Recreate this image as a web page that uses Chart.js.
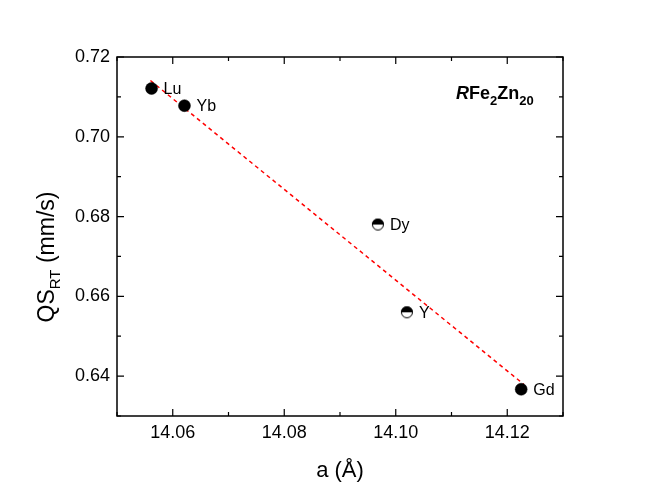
<!DOCTYPE html>
<html>
<head>
<meta charset="utf-8">
<script src="https://cdn.jsdelivr.net/npm/chart.js@4/dist/chart.umd.min.js"></script>
<style>
  html, body { margin: 0; padding: 0; background: #fff; }
  #wrap { width: 654px; height: 500px; }
</style>
</head>
<body>
<div id="wrap"><canvas id="qsChart" width="654" height="500"></canvas></div>
<script>
// data
const elements = ['Lu', 'Yb', 'Dy', 'Y', 'Gd'];
const latticeA = [14.0562, 14.0621, 14.0968, 14.1020, 14.1225];
const qsRT = [0.7121, 0.7078, 0.6780, 0.6560, 0.6367];
const halfFilled = [false, false, true, true, false];

// linear fit (dashed red)
const fitA = [14.0560, 14.1230];
const fitQS = [0.7141, 0.6379];

const xMin = 14.05, xMax = 14.13;
const yMin = 0.63, yMax = 0.72;

const FONT = '"Liberation Sans", Arial, sans-serif';

// half filled marker: black top, white bottom
function makeHalfMarker() {
    const c = document.createElement('canvas');
    c.width = 14; c.height = 14;
    const g = c.getContext('2d');
    g.beginPath();
    g.arc(7, 7, 6, 0, Math.PI * 2);
    g.fillStyle = '#fff';
    g.fill();
    g.beginPath();
    g.arc(7, 7, 6, Math.PI, 0);
    g.closePath();
    g.fillStyle = '#000';
    g.fill();
    g.beginPath();
    g.arc(7, 7, 5.5, 0, Math.PI * 2);
    g.lineWidth = 1;
    g.strokeStyle = '#000';
    g.stroke();
    return c;
}
const halfDot = makeHalfMarker();

function isMajor(v) {
    return Math.round(v * 100) % 2 === 0;
}

// draw pieces of text one after another, with baseline shifts
function drawRuns(ctx, runs, x, y) {
    let cx = x;
    runs.forEach(p => {
        ctx.font = p.f;
        ctx.fillText(p.t, cx, y + p.dy);
        cx += ctx.measureText(p.t).width;
    });
}
function runsWidth(ctx, runs) {
    let w = 0;
    runs.forEach(p => { ctx.font = p.f; w += ctx.measureText(p.t).width; });
    return w;
}

// frame, inward ticks, labels, titles
const decor = {
    id: 'decor',
    afterDraw(chart) {
        const ctx = chart.ctx;
        const a = chart.chartArea;
        const xs = chart.scales.x, ys = chart.scales.y;
        ctx.save();
        ctx.strokeStyle = '#000';
        ctx.lineWidth = 1.5;
        ctx.strokeRect(a.left, a.top, a.right - a.left, a.bottom - a.top);

        ctx.lineWidth = 1.2;
        xs.ticks.forEach(t => {
            const px = xs.getPixelForValue(t.value);
            const len = isMajor(t.value) ? 7 : 4;
            ctx.beginPath();
            ctx.moveTo(px, a.bottom); ctx.lineTo(px, a.bottom - len);
            ctx.moveTo(px, a.top); ctx.lineTo(px, a.top + len);
            ctx.stroke();
        });
        ys.ticks.forEach(t => {
            const py = ys.getPixelForValue(t.value);
            const len = isMajor(t.value) ? 7 : 4;
            ctx.beginPath();
            ctx.moveTo(a.left, py); ctx.lineTo(a.left + len, py);
            ctx.moveTo(a.right, py); ctx.lineTo(a.right - len, py);
            ctx.stroke();
        });

        // point labels
        ctx.fillStyle = '#000';
        ctx.font = '16px ' + FONT;
        ctx.textBaseline = 'middle';
        ctx.textAlign = 'left';
        elements.forEach((el, i) => {
            const px = xs.getPixelForValue(latticeA[i]);
            const py = ys.getPixelForValue(qsRT[i]);
            ctx.fillText(el, px + 12, py + 1);
        });

        // x title
        ctx.font = '22px ' + FONT;
        ctx.textAlign = 'center';
        ctx.textBaseline = 'alphabetic';
        ctx.fillText('a (Å)', (a.left + a.right) / 2, 477);

        // y title with subscript
        ctx.save();
        ctx.translate(54, 257);
        ctx.rotate(-Math.PI / 2);
        ctx.textAlign = 'left';
        const yTitle = [
            { t: 'QS', f: '23px ' + FONT, dy: 0 },
            { t: 'RT', f: '15px ' + FONT, dy: 6 },
            { t: ' (mm/s)', f: '23px ' + FONT, dy: 0 }
        ];
        drawRuns(ctx, yTitle, -runsWidth(ctx, yTitle) / 2, 0);
        ctx.restore();

        // compound label
        const comp = [
            { t: 'R', f: 'italic bold 18px ' + FONT, dy: 0 },
            { t: 'Fe', f: 'bold 18px ' + FONT, dy: 0 },
            { t: '2', f: 'bold 13px ' + FONT, dy: 6 },
            { t: 'Zn', f: 'bold 18px ' + FONT, dy: 0 },
            { t: '20', f: 'bold 13px ' + FONT, dy: 6 }
        ];
        ctx.textAlign = 'left';
        drawRuns(ctx, comp, 456, 99);
        ctx.restore();
    }
};

new Chart(document.getElementById('qsChart'), {
    type: 'scatter',
    data: {
        datasets: [
            {
                label: 'data',
                data: latticeA.map((v, i) => ({ x: v, y: qsRT[i] })),
                pointStyle: halfFilled.map(h => h ? halfDot : 'circle'),
                pointRadius: 6,
                pointBackgroundColor: '#000',
                pointBorderColor: '#000',
                pointBorderWidth: 0.5,
                order: 0
            },
            {
                label: 'fit',
                type: 'line',
                data: fitA.map((v, i) => ({ x: v, y: fitQS[i] })),
                borderColor: '#ff0000',
                borderWidth: 1.5,
                borderDash: [4, 3.5],
                pointRadius: 0,
                fill: false,
                order: 1
            }
        ]
    },
    options: {
        responsive: false,
        animation: false,
        layout: { padding: { top: 57, right: 91, left: 0, bottom: 0 } },
        plugins: { legend: { display: false }, tooltip: { enabled: false } },
        scales: {
            x: {
                type: 'linear',
                min: xMin, max: xMax,
                afterFit(s) { s.height = 84; },
                grid: { display: false, drawTicks: false },
                border: { display: false },
                ticks: {
                    stepSize: 0.01,
                    padding: 6,
                    color: '#000',
                    font: { family: FONT, size: 18 },
                    maxRotation: 0,
                    autoSkip: false,
                    callback: v => isMajor(v) ? v.toFixed(2) : ''
                }
            },
            y: {
                type: 'linear',
                min: yMin, max: yMax,
                afterFit(s) { s.width = 117; },
                grid: { display: false, drawTicks: false },
                border: { display: false },
                ticks: {
                    stepSize: 0.01,
                    padding: 7,
                    color: '#000',
                    font: { family: FONT, size: 18 },
                    autoSkip: false,
                    callback: v => isMajor(v) ? v.toFixed(2) : ''
                }
            }
        }
    },
    plugins: [decor]
});
</script>
</body>
</html>
